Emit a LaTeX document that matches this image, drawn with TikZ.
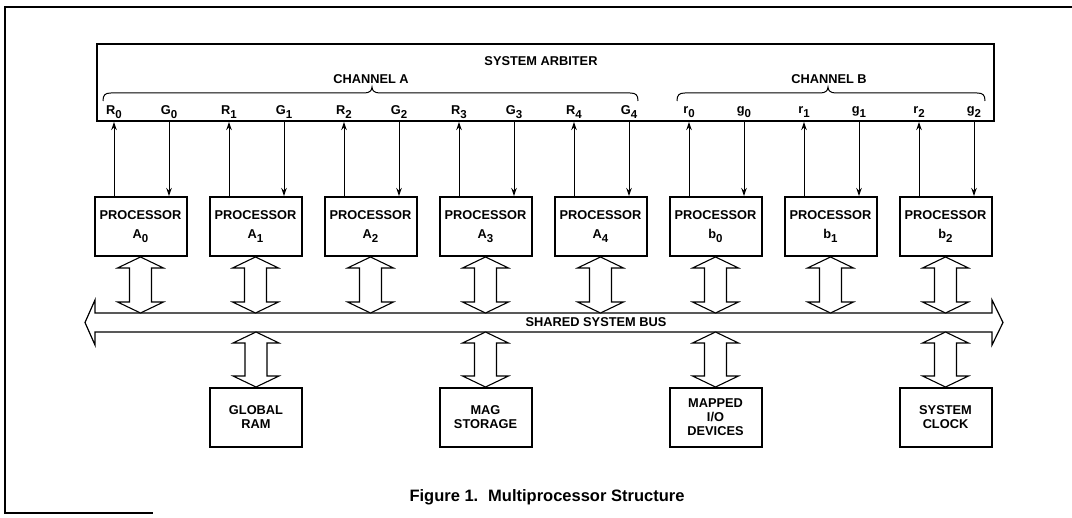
\documentclass[tikz,border=0pt]{standalone}
\usepackage{fontspec}
\setmainfont{Liberation Sans}
\usetikzlibrary{arrows.meta,calc}
\newcommand{\lsub}[1]{\raisebox{-0.3em}{\fontsize{11.5}{11.5}\selectfont #1}}
\newcommand{\hollowarrow}[2]{%
  \draw[harrow] (#1) -- ([shift={(23,11)}]#1) -- ([shift={(11,11)}]#1) -- ([shift={(11,-11)}]#2)
    -- ([shift={(23,-11)}]#2) -- (#2) -- ([shift={(-23,-11)}]#2) -- ([shift={(-11,-11)}]#2)
    -- ([shift={(-11,11)}]#1) -- ([shift={(-23,11)}]#1) -- cycle;}
\tikzset{
  txt/.style={font=\fontsize{12.8}{14}\selectfont\bfseries, inner sep=0pt},
  proc/.style={draw, line width=2pt, minimum width=92pt, minimum height=59pt, inner sep=0pt,
    align=center, font=\fontsize{12.8}{14}\selectfont\bfseries},
  sig/.style={line width=1pt, -{Stealth[length=8pt,width=5.5pt]}},
  harrow/.style={line width=1.1pt, fill=white},
  bracestyle/.style={line width=1pt},
}
\begin{document}
\begin{tikzpicture}[x=1pt,y=-1pt]
\useasboundingbox (0,0) rectangle (1072,518);
% page frame
\draw[line width=2pt] (1072,7) -- (5,7) -- (5,513) -- (153,513);
% arbiter
\node[draw, line width=2pt, minimum width=897pt, minimum height=77pt, inner sep=0pt, anchor=north west] (arb) at (95.5,43) {};
\node[txt] (arbtitle) at (541,61) {SYSTEM ARBITER};
\node[txt] (chA) at (371,79) {CHANNEL A};
\node[txt] (chB) at (829,79) {CHANNEL B};
\draw[bracestyle] (103,101) .. controls (103,95) and (105,93) .. (111,93) -- (364,93)
  .. controls (369,93) and (372,91) .. (372,87) .. controls (372,91) and (375,93) .. (380,93)
  -- (630,93) .. controls (636,93) and (638,95) .. (638,101);
\draw[bracestyle] (677,101) .. controls (677,95) and (679,93) .. (685,93) -- (820,93)
  .. controls (825,93) and (828,91) .. (828,87) .. controls (828,91) and (831,93) .. (836,93)
  -- (977,93) .. controls (983,93) and (985,95) .. (985,101);
\coordinate (lrow) at (0,112);
% processors
\foreach \i/\L/\s in {0/A/0,1/A/1,2/A/2,3/A/3,4/A/4,5/b/0,6/b/1,7/b/2} {
  \pgfmathsetmacro{\cx}{140.5+115*\i}
  \node[proc] (p\i) at (\cx,226.5) {PROCESSOR\\[5pt]\L\lsub{\s}};
}
% request / grant lines
\foreach \i in {0,...,7} {
  \path ([xshift=-26.5pt]p\i.north) coordinate (rb\i) ([xshift=28.5pt]p\i.north) coordinate (gb\i);
  \draw[sig] (rb\i) -- (rb\i |- arb.south);
  \draw[sig] (gb\i |- arb.south) -- (gb\i);
}
\foreach \i/\t in {0/R\lsub{0},1/R\lsub{1},2/R\lsub{2},3/R\lsub{3},4/R\lsub{4},5/r\lsub{0},6/r\lsub{1},7/r\lsub{2}} {
  \node[txt] (rl\i) at (rb\i |- lrow) {\t};
}
\foreach \i/\t in {0/G\lsub{0},1/G\lsub{1},2/G\lsub{2},3/G\lsub{3},4/G\lsub{4},5/g\lsub{0},6/g\lsub{1},7/g\lsub{2}} {
  \node[txt] (gl\i) at (gb\i |- lrow) {\t};
}
% bus
\coordinate (bustop) at (0,313);
\coordinate (busbot) at (0,332);
\draw[line width=1.2pt] (95,313) -- (992,313) -- (992,300) -- (1003,322.5) -- (992,345) -- (992,332)
  -- (95,332) -- (95,345) -- (85,322.5) -- (95,300) -- cycle;
\node[txt] (bus) at (596,322.5) {SHARED SYSTEM BUS};
\foreach \i in {0,...,7} {
  \path (p\i.south) coordinate (ha\i) (p\i.south |- bustop) coordinate (hb\i);
  \hollowarrow{ha\i}{hb\i}
}
% memory / devices
\node[proc] (ram) at (256,417.5) {GLOBAL\\RAM};
\node[proc] (mag) at (485.5,417.5) {MAG\\STORAGE};
\node[proc] (mio) at (715.5,417.5) {MAPPED\\I/O\\DEVICES};
\node[proc] (clk) at (945.5,417.5) {SYSTEM\\CLOCK};
\foreach \n in {ram,mag,mio,clk} {
  \path (\n.north |- busbot) coordinate (la\n) (\n.north) coordinate (lb\n);
  \hollowarrow{la\n}{lb\n}
}
\node[font=\fontsize{16.5}{18}\selectfont\bfseries, inner sep=0pt] (cap) at (547,497) {Figure 1.\hspace{0.6em}Multiprocessor Structure};
\end{tikzpicture}
\end{document}
